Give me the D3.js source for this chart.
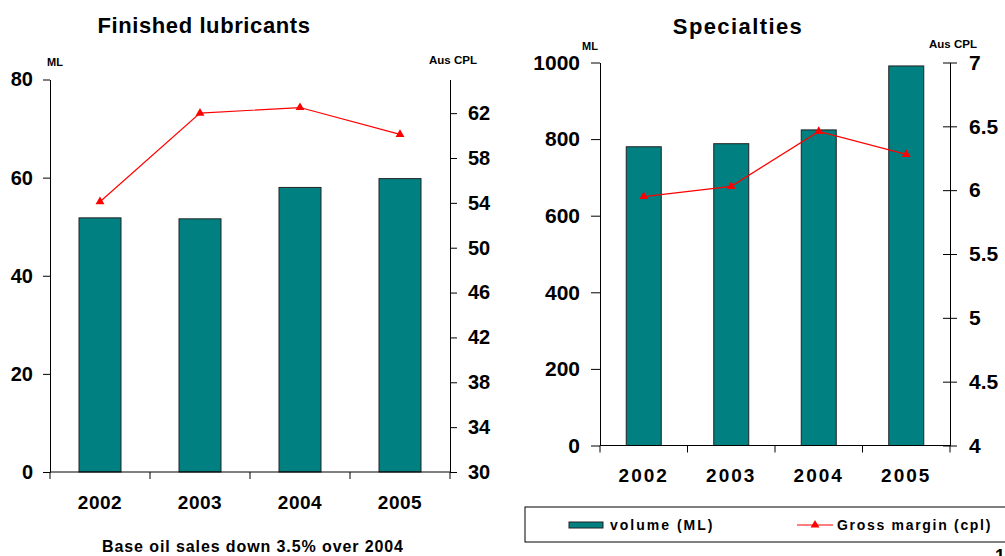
<!DOCTYPE html>
<html>
<head>
<meta charset="utf-8">
<script src="https://cdn.jsdelivr.net/npm/d3@7"></script>
<style>
  body { margin: 0; background: #fff; }
  svg text { font-family: "Liberation Sans", Arial, sans-serif; font-weight: bold; fill: #000; }
</style>
</head>
<body>
<div id="chart"></div>
<script>
// values
const years = ["2002", "2003", "2004", "2005"];

const lubVolume = [51.8, 51.6, 58.0, 59.8];     // ML
const lubMargin = [54.1, 62.0, 62.5, 60.1];     // Aus CPL
const lubLeftTicks = [0, 20, 40, 60, 80];
const lubRightTicks = [30, 34, 38, 42, 46, 50, 54, 58, 62];

const specVolume = [780, 788, 824, 991];
const specMargin = [5.95, 6.03, 6.46, 6.28];
const specLeftTicks = [0, 200, 400, 600, 800, 1000];
const specRightTicks = [4, 4.5, 5, 5.5, 6, 6.5, 7];

const width = 1005, height = 556;
const teal = "#008080", red = "#ff0000";

const svg = d3.select("#chart").append("svg")
  .attr("width", width)
  .attr("height", height);

// one panel = bars on left axis, line on right axis
function drawPanel(cfg) {
  const g = svg.append("g");

  const x = d3.scaleBand()
    .domain(years)
    .range([cfg.x0, cfg.x1])
    .paddingInner(cfg.pad)
    .paddingOuter(cfg.pad / 2);

  const yL = d3.scaleLinear().domain(cfg.leftDomain).range([cfg.yBot, cfg.yTop]);
  const yR = d3.scaleLinear().domain(cfg.rightDomain).range([cfg.yBot, cfg.yTop]);

  // title + unit labels
  g.append("text").attr("x", cfg.titleX).attr("y", cfg.titleY)
    .attr("text-anchor", "middle").style("font-size", "22px")
    .style("letter-spacing", cfg.titleSpacing + "px").text(cfg.title);
  g.append("text").attr("x", cfg.mlX).attr("y", cfg.mlY)
    .style("font-size", "11px").text("ML");
  g.append("text").attr("x", cfg.cplX).attr("y", cfg.cplY)
    .style("font-size", "11.5px").text("Aus CPL");

  // bars
  g.selectAll(".bar")
    .data(cfg.volume)
    .enter()
    .append("rect")
    .attr("class", "bar")
    .attr("x", (d, i) => x(years[i]))
    .attr("y", d => yL(d))
    .attr("width", x.bandwidth())
    .attr("height", d => cfg.yBot - yL(d))
    .attr("fill", teal)
    .attr("stroke", "#222")
    .attr("stroke-width", 1);

  // left axis
  const axL = g.append("g")
    .attr("transform", `translate(${cfg.x0},0)`)
    .call(d3.axisLeft(yL).tickValues(cfg.leftTicks).tickFormat(d => d)
      .tickSize(cfg.tickL).tickPadding(cfg.padL).tickSizeOuter(0));
  axL.selectAll("text").style("font-size", cfg.labelSize + "px").attr("fill", "#000");

  // right axis
  const axR = g.append("g")
    .attr("transform", `translate(${cfg.x1},0)`)
    .call(d3.axisRight(yR).tickValues(cfg.rightTicks).tickFormat(d => d)
      .tickSize(7).tickPadding(cfg.padR).tickSizeOuter(0));
  axR.selectAll("text").style("font-size", cfg.labelSize + "px").attr("fill", "#000");
  if (cfg.crossTicks) axR.selectAll(".tick line").attr("x1", -7);

  // x axis: labels centered, ticks at category boundaries
  const axX = g.append("g")
    .attr("transform", `translate(0,${cfg.yBot})`)
    .call(d3.axisBottom(x).tickSize(0).tickPadding(cfg.padX).tickSizeOuter(0));
  axX.select(".domain").remove();
  axX.selectAll("text").style("font-size", "19px")
    .style("letter-spacing", cfg.xSpacing + "px").attr("fill", "#000");

  const step = x.step();
  const bounds = years.map(c => x(c) + x.bandwidth() / 2 - step / 2).concat([cfg.x1]);
  g.append("line")
    .attr("x1", cfg.x0).attr("x2", cfg.x1)
    .attr("y1", cfg.yBot).attr("y2", cfg.yBot)
    .attr("stroke", "#000");
  g.selectAll(".xtick")
    .data(bounds)
    .enter()
    .append("line")
    .attr("class", "xtick")
    .attr("x1", d => d).attr("x2", d => d)
    .attr("y1", cfg.yBot).attr("y2", cfg.yBot + 7)
    .attr("stroke", "#000");

  g.selectAll(".domain, .tick line").attr("stroke", "#000");

  // margin line
  const line = d3.line()
    .x((d, i) => x(years[i]) + x.bandwidth() / 2)
    .y(d => yR(d));

  g.append("path")
    .datum(cfg.margin)
    .attr("d", line)
    .attr("fill", "none")
    .attr("stroke", red)
    .attr("stroke-width", 1.2);

  g.selectAll(".mark")
    .data(cfg.margin)
    .enter()
    .append("path")
    .attr("class", "mark")
    .attr("d", d3.symbol().type(d3.symbolTriangle).size(34))
    .attr("transform", (d, i) => `translate(${x(years[i]) + x.bandwidth() / 2},${yR(d)})`)
    .attr("fill", red);
}

drawPanel({
  title: "Finished lubricants", titleX: 204, titleY: 33, titleSpacing: 0.6,
  mlX: 47, mlY: 66, cplX: 429, cplY: 64,
  x0: 50, x1: 450, yTop: 79.5, yBot: 472, pad: 0.58,
  leftDomain: [0, 80], rightDomain: [30, 65],
  leftTicks: lubLeftTicks, rightTicks: lubRightTicks,
  volume: lubVolume, margin: lubMargin,
  tickL: 7, padL: 10, padR: 11, padX: 23.5, labelSize: 20,
  xSpacing: 0.5, crossTicks: false
});

drawPanel({
  title: "Specialties", titleX: 738, titleY: 34, titleSpacing: 1.4,
  mlX: 582, mlY: 50, cplX: 929, cplY: 48,
  x0: 600, x1: 950, yTop: 62.5, yBot: 445.5, pad: 0.6,
  leftDomain: [0, 1000], rightDomain: [4, 7],
  leftTicks: specLeftTicks, rightTicks: specRightTicks,
  volume: specVolume, margin: specMargin,
  tickL: 9, padL: 11, padR: 12, padX: 23, labelSize: 21,
  xSpacing: 2, crossTicks: true
});

// caption under left chart
svg.append("text")
  .attr("x", 253).attr("y", 552)
  .attr("text-anchor", "middle")
  .style("font-size", "16px")
  .style("letter-spacing", "0.9px")
  .text("Base oil sales down 3.5% over 2004");

// legend
const legend = svg.append("g");
legend.append("rect")
  .attr("x", 525).attr("y", 507)
  .attr("width", 490).attr("height", 35)
  .attr("fill", "#fff").attr("stroke", "#000");
legend.append("rect")
  .attr("x", 569).attr("y", 522).attr("width", 34).attr("height", 6)
  .attr("fill", teal).attr("stroke", "#222");
legend.append("text")
  .attr("x", 610).attr("y", 530)
  .style("font-size", "14px").style("letter-spacing", "2px")
  .text("volume (ML)");
legend.append("line")
  .attr("x1", 797).attr("x2", 833).attr("y1", 525).attr("y2", 525)
  .attr("stroke", red).attr("stroke-width", 1.2);
legend.append("path")
  .attr("d", d3.symbol().type(d3.symbolTriangle).size(34))
  .attr("transform", "translate(815,525)")
  .attr("fill", red);
legend.append("text")
  .attr("x", 837).attr("y", 530)
  .style("font-size", "14px").style("letter-spacing", "1.7px")
  .text("Gross margin (cpl)");

// page number, cut off at the bottom edge as in the original
svg.append("text")
  .attr("x", 995).attr("y", 562)
  .style("font-size", "18px")
  .text("1");
</script>
</body>
</html>
